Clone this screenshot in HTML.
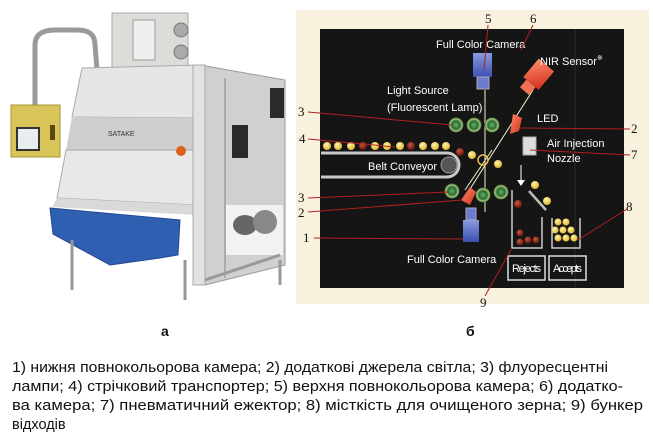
<!DOCTYPE html>
<html><head><meta charset="utf-8"><style>
html,body{margin:0;padding:0;background:#fff;width:653px;height:439px;overflow:hidden}
svg{display:block}
.w{font-family:"Liberation Sans",sans-serif;fill:#fff;font-size:11px}
.n{font-family:"Liberation Serif",serif;fill:#111;font-size:13px}
.c{font-family:"Liberation Sans","DejaVu Sans",sans-serif;fill:#111;font-size:14.5px}
</style></head><body>
<svg width="653" height="439" viewBox="0 0 653 439" xmlns="http://www.w3.org/2000/svg">
<defs>
<radialGradient id="g" cx="50%" cy="50%" r="50%"><stop offset="0" stop-color="#5fb35f"/><stop offset=".55" stop-color="#2f6a35"/><stop offset=".8" stop-color="#9fc37a"/><stop offset="1" stop-color="#42602f"/></radialGradient>
<radialGradient id="y" cx="40%" cy="35%" r="60%"><stop offset="0" stop-color="#fff6a8"/><stop offset="1" stop-color="#e3b83a"/></radialGradient>
<radialGradient id="r" cx="40%" cy="35%" r="60%"><stop offset="0" stop-color="#c85a3a"/><stop offset="1" stop-color="#6a1a10"/></radialGradient>
<linearGradient id="bl" x1="0" y1="0" x2="0" y2="1"><stop offset="0" stop-color="#8a9be0"/><stop offset="1" stop-color="#3b4fb0"/></linearGradient>
<linearGradient id="rd" x1="0" y1="0" x2="1" y2="1"><stop offset="0" stop-color="#ff8a6a"/><stop offset="1" stop-color="#d0301c"/></linearGradient>
</defs>
<!-- machine photo -->
<path d="M35,106 L35,45 Q35,30 55,30 L78,30 Q95,30 95,45 L97,70" fill="none" stroke="#9a9a9a" stroke-width="5"/>
<rect x="11" y="105" width="49" height="52" fill="#d9c45a" stroke="#a89430"/>
<rect x="17" y="128" width="22" height="22" fill="#e8eef0" stroke="#333" stroke-width="2"/>
<rect x="50" y="125" width="5" height="15" fill="#5a4a10"/>
<rect x="112" y="13" width="76" height="55" fill="#dcdcd8" stroke="#aaa"/>
<rect x="133" y="20" width="22" height="40" fill="#eeeeee" stroke="#999"/>
<circle cx="181" cy="30" r="7" fill="#aaa" stroke="#777"/><circle cx="181" cy="52" r="7" fill="#aaa" stroke="#777"/>
<polygon points="200,65 285,80 285,265 205,285" fill="#cfd0d0" stroke="#999"/>
<rect x="225" y="205" width="58" height="50" fill="#f2f2f2"/>
<ellipse cx="245" cy="225" rx="12" ry="10" fill="#666"/><ellipse cx="265" cy="222" rx="12" ry="12" fill="#888"/>
<rect x="232" y="125" width="16" height="33" fill="#2a2a2a"/>
<rect x="270" y="88" width="14" height="30" fill="#2a2a2a"/>
<rect x="224" y="78" width="2" height="200" fill="#aaa"/>
<polygon points="82,68 200,65 198,118 72,117" fill="#e6e6e6" stroke="#aaa"/>
<polygon points="72,117 198,118 197,150 66,150" fill="#cfcfcf"/>
<text x="108" y="136" font-family="Liberation Sans" font-size="7" fill="#333">SATAKE</text>
<polygon points="66,150 197,150 195,205 57,198" fill="#e8e8e8" stroke="#aaa"/>
<polygon points="57,198 195,205 195,215 52,207" fill="#d9d9d9"/>
<polygon points="50,208 180,220 178,255 160,258 110,265 53,234" fill="#2f5fb0" stroke="#244a90"/>
<rect x="193" y="65" width="12" height="220" fill="#e2e2e2" stroke="#aaa"/>
<circle cx="181" cy="151" r="5" fill="#e06020"/>
<g stroke="#999" stroke-width="3"><line x1="72" y1="240" x2="72" y2="290"/><line x1="185" y1="260" x2="185" y2="300"/><line x1="280" y1="260" x2="280" y2="285"/><line x1="205" y1="280" x2="280" y2="255"/></g>
<!-- diagram background -->
<rect x="296" y="10" width="353" height="294" fill="#f8f1dd"/>
<rect x="320" y="29" width="304" height="259" fill="#151515"/>
<line x1="575" y1="29" x2="575" y2="288" stroke="#2a2a2a"/>
<!-- beams -->
<g stroke="#f4f2c8" stroke-width="1"><line x1="485" y1="90" x2="485" y2="212"/><line x1="533" y1="90" x2="463" y2="200"/><line x1="465" y1="190" x2="492" y2="150"/></g>
<circle cx="483" cy="160" r="5" fill="none" stroke="#e5c04a" stroke-width="1.5"/>
<!-- cameras -->
<rect x="473" y="53" width="19" height="24" fill="url(#bl)"/><rect x="477" y="77" width="12" height="12" fill="#6a7bd0" stroke="#aab"/>
<rect x="463" y="220" width="16" height="22" fill="url(#bl)"/><rect x="466" y="208" width="10" height="12" fill="#6a7bd0" stroke="#aab"/>
<g transform="rotate(40 538 75)"><rect x="528" y="62" width="20" height="24" fill="url(#rd)"/><rect x="532" y="86" width="12" height="10" fill="#f07050"/></g>
<!-- LEDs -->
<polygon points="513,114 522,118 519,131 510,134" fill="url(#rd)"/>
<polygon points="470,187 476,192 470,205 461,200" fill="url(#rd)"/>
<!-- lamps -->
<g fill="url(#g)"><circle cx="456" cy="125" r="7.5"/><circle cx="474" cy="125" r="7.5"/><circle cx="492" cy="125" r="7.5"/><circle cx="452" cy="191" r="7.5"/><circle cx="483" cy="195" r="7.5"/><circle cx="501" cy="192" r="7.5"/></g>
<!-- belt -->
<path d="M321,153 L447,153 A12,12 0 0 1 447,177 L321,177" fill="none" stroke="#c9c9c9" stroke-width="3"/>
<circle cx="449" cy="165" r="8" fill="#555" stroke="#999"/>
<text class="w" x="368" y="170">Belt Conveyor</text>
<!-- grains -->
<g fill="url(#y)"><circle cx="327" cy="146" r="4"/><circle cx="338" cy="146" r="4"/><circle cx="351" cy="146" r="4"/><circle cx="375" cy="146" r="4"/><circle cx="387" cy="146" r="4"/><circle cx="400" cy="146" r="4"/><circle cx="423" cy="146" r="4"/><circle cx="435" cy="146" r="4"/><circle cx="446" cy="146" r="4"/><circle cx="472" cy="155" r="4"/><circle cx="498" cy="164" r="4"/><circle cx="535" cy="185" r="4"/><circle cx="547" cy="201" r="4"/><circle cx="558" cy="222" r="3.5"/><circle cx="566" cy="222" r="3.5"/><circle cx="555" cy="230" r="3.5"/><circle cx="563" cy="230" r="3.5"/><circle cx="571" cy="230" r="3.5"/><circle cx="558" cy="238" r="3.5"/><circle cx="566" cy="238" r="3.5"/><circle cx="574" cy="238" r="3.5"/></g>
<g fill="url(#r)"><circle cx="363" cy="146" r="4"/><circle cx="411" cy="146" r="4"/><circle cx="460" cy="152" r="4"/><circle cx="518" cy="204" r="4"/><circle cx="520" cy="233" r="3.5"/><circle cx="528" cy="240" r="3.5"/><circle cx="536" cy="240" r="3.5"/><circle cx="520" cy="242" r="3.5"/></g>
<!-- nozzle -->
<rect x="523" y="137" width="13" height="18" fill="#ddd" stroke="#aaa"/>
<line x1="521" y1="165" x2="521" y2="182" stroke="#fff"/><polygon points="517,180 525,180 521,186" fill="#fff"/>
<line x1="529" y1="191" x2="546" y2="210" stroke="#bbb" stroke-width="2.5"/>
<!-- bins -->
<path d="M512,190 L512,248 L542,248 L542,217" fill="none" stroke="#ccc" stroke-width="1.5"/>
<path d="M552,218 L552,248 L580,248 L580,218" fill="none" stroke="#ccc" stroke-width="1.5"/>
<rect x="508" y="256" width="37" height="24" fill="none" stroke="#ddd" stroke-width="1.5"/>
<rect x="549" y="256" width="37" height="24" fill="none" stroke="#ddd" stroke-width="1.5"/>
<text class="w" x="512" y="272" font-size="9.5" textLength="29">Rejects</text>
<text class="w" x="553" y="272" font-size="9.5" textLength="29">Accepts</text>
<!-- labels -->
<text class="w" x="436" y="48">Full Color Camera</text>
<text class="w" x="540" y="65">NIR Sensor<tspan font-size="7" dy="-5">※</tspan></text>
<text class="w" x="387" y="94">Light Source</text>
<text class="w" x="387" y="111">(Fluorescent Lamp)</text>
<text class="w" x="537" y="122">LED</text>
<text class="w" x="547" y="147">Air Injection</text>
<text class="w" x="547" y="162">Nozzle</text>
<text class="w" x="407" y="263">Full Color Camera</text>
<g stroke="#b02020" stroke-width="1" fill="none">
<line x1="308" y1="112" x2="452" y2="125"/><line x1="308" y1="139" x2="395" y2="147"/>
<line x1="308" y1="198" x2="448" y2="192"/><line x1="308" y1="212" x2="462" y2="200"/>
<line x1="314" y1="238" x2="463" y2="239"/><line x1="520" y1="128" x2="630" y2="129"/>
<line x1="530" y1="150" x2="630" y2="155"/><line x1="578" y1="240" x2="627" y2="209"/>
<line x1="485" y1="296" x2="512" y2="248"/>
<line x1="488" y1="25" x2="484" y2="70"/><line x1="533" y1="25" x2="521" y2="50"/>
</g>
<g class="n"><text x="485" y="23">5</text><text x="530" y="23">6</text><text x="298" y="116">3</text><text x="299" y="143">4</text><text x="298" y="202">3</text><text x="298" y="217">2</text><text x="303" y="242">1</text><text x="631" y="133">2</text><text x="631" y="159">7</text><text x="626" y="211">8</text><text x="480" y="307">9</text></g>
<!-- captions -->
<text x="161" y="336" font-family="Liberation Sans" font-weight="bold" font-size="14" fill="#111">а</text>
<text x="466" y="336" font-family="Liberation Sans" font-weight="bold" font-size="14" fill="#111">б</text>
<text class="c" x="12" y="372" textLength="596" lengthAdjust="spacingAndGlyphs">1) нижня повнокольорова камера; 2) додаткові джерела світла; 3) флуоресцентні</text>
<text class="c" x="12" y="391" textLength="611" lengthAdjust="spacingAndGlyphs">лампи; 4) стрічковий транспортер; 5) верхня повнокольорова камера; 6) додатко-</text>
<text class="c" x="12" y="410" textLength="631" lengthAdjust="spacingAndGlyphs">ва камера; 7) пневматичний ежектор; 8) місткість для очищеного зерна; 9) бункер</text>
<text class="c" x="12" y="429">відходів</text>
</svg>
</body></html>
